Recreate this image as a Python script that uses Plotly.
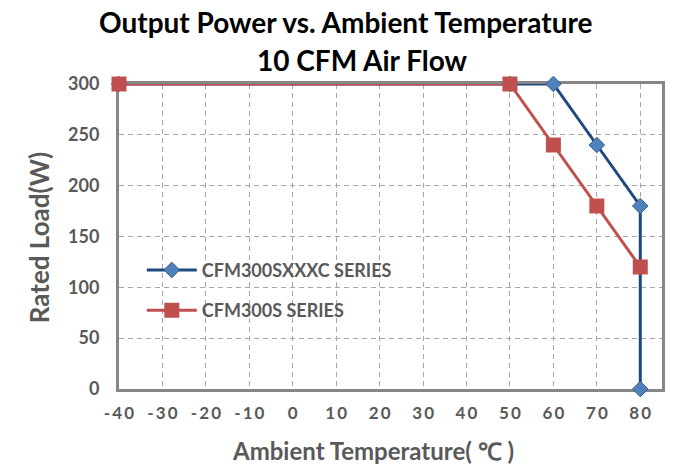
import plotly.graph_objects as go

# Data
temps_xxxc = [-40, 50, 60, 70, 80, 80]
load_xxxc = [300, 300, 300, 240, 180, 0]
temps_s = [-40, 50, 60, 70, 80]
load_s = [300, 300, 240, 180, 120]
x_ticks = [-40, -30, -20, -10, 0, 10, 20, 30, 40, 50, 60, 70, 80]
y_ticks = [0, 50, 100, 150, 200, 250, 300]

def spaced(v):
    return "\u2009".join(list(str(v)))

FONT = "Lato, 'Open Sans', sans-serif"
GRAY = "#595959"

fig = go.Figure()
fig.add_trace(go.Scatter(
    x=temps_xxxc, y=load_xxxc, mode="lines+markers", name="CFM300SXXXC SERIES",
    line=dict(color="#1F497D", width=3), cliponaxis=False, legendgroup="a",
    marker=dict(symbol="diamond", size=12, color="#4F81BD", line=dict(color="#385D8A", width=1)),
    legendrank=1,
))
fig.add_trace(go.Scatter(
    x=temps_s, y=load_s, mode="lines+markers", name="CFM300S SERIES",
    line=dict(color="#C0504D", width=3), cliponaxis=False, legendgroup="b",
    marker=dict(symbol="square", size=15, color="#C0504D"),
    legendrank=2,
))

axis_common = dict(
    showgrid=True, gridcolor="#A6A6A6", griddash="5px,4px", gridwidth=1,
    showline=True, linecolor="#868686", linewidth=3, mirror=True,
    zeroline=False, automargin=False, layer="below traces",
    ticks="outside", tickcolor="rgba(0,0,0,0)",
)

fig.update_layout(
    width=679, height=465,
    margin=dict(l=119, r=17, t=84, b=76),
    paper_bgcolor="white", plot_bgcolor="white",
    showlegend=True,
    legend=dict(x=0.042, y=0.45, xanchor="left", yanchor="top",
                bgcolor="rgba(0,0,0,0)", tracegroupgap=14, traceorder="grouped",
                font=dict(family=FONT, size=18, color=GRAY, weight="bold"),
                itemwidth=50),
    xaxis=dict(range=[-40, 85], tickvals=x_ticks, ticktext=[spaced(v) for v in x_ticks],
               ticklen=7,
               tickfont=dict(family=FONT, size=17, color=GRAY, weight="bold"),
               **axis_common),
    yaxis=dict(range=[0, 300], tickvals=y_ticks, ticklen=13,
               tickfont=dict(family=FONT, size=18, color=GRAY, weight="bold"),
               **axis_common),
    annotations=[
        dict(text="Output Power vs. Ambient Temperature", xref="paper", yref="paper",
             x=0.418, y=1.203, xanchor="center", yanchor="middle", showarrow=False,
             font=dict(family=FONT, size=28, color="black", weight="bold")),
        dict(text="10 CFM Air Flow", xref="paper", yref="paper",
             x=0.449, y=1.079, xanchor="center", yanchor="middle", showarrow=False,
             font=dict(family=FONT, size=28, color="black", weight="bold")),
        dict(text="Ambient Temperature( ℃ )", xref="paper", yref="paper",
             x=0.468, y=-0.2, xanchor="center", yanchor="middle", showarrow=False,
             font=dict(family=FONT, size=24, color=GRAY, weight="bold")),
        dict(text="Rated Load(W)", xref="paper", yref="paper", textangle=-90,
             x=-0.147, y=0.495, xanchor="center", yanchor="middle", showarrow=False,
             font=dict(family=FONT, size=26, color=GRAY, weight="bold")),
    ],
)
fig.write_html("out.html", post_script="document.body.style.margin='0px';",
               config={"displayModeBar": False})
